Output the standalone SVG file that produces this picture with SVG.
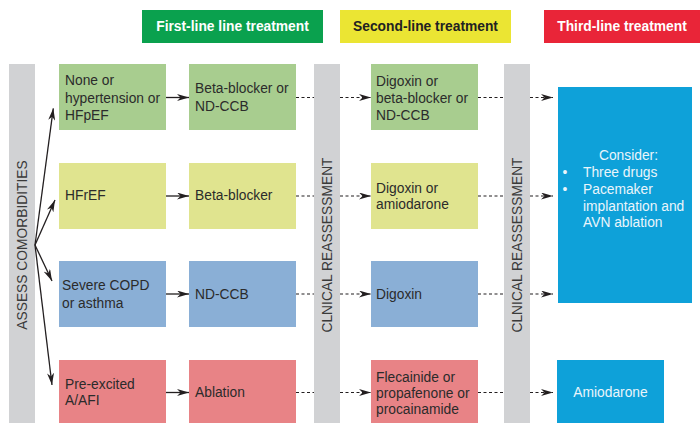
<svg xmlns="http://www.w3.org/2000/svg" width="700" height="423" viewBox="0 0 700 423">
<defs>
<marker id="ah" viewBox="0 0 12 7" refX="12" refY="3.5" markerWidth="12" markerHeight="7" orient="auto" markerUnits="userSpaceOnUse">
<path d="M0,0 L12,3.5 L0,7 L3.5,3.5 z" fill="#231f20"/>
</marker>
<style>
text{font-family:"Liberation Sans",Arial,Helvetica,sans-serif;font-size:13.8px;fill:#2b2b2b}
.hd{font-weight:bold;text-anchor:middle}
.w{fill:#ffffff}
.lt{fill:#eaf5fb}
.vt{text-anchor:middle;fill:#3a3a3a}
.bar{fill:#d1d2d4}
.g{fill:#a8cd8f}
.y{fill:#e0e48f}
.b{fill:#8aafd6}
.p{fill:#e88386}
.c{fill:#0ea1d9}
.sol{stroke:#231f20;stroke-width:1.3;fill:none}
.dash{stroke:#231f20;stroke-width:1.2;stroke-dasharray:3 2.5;fill:none}
</style>
</defs>
<rect width="700" height="423" fill="#ffffff"/>

<g id="header-first"><rect x="142" y="10" width="181" height="33" fill="#0aa14e"/><text class="hd w" x="232.5" y="31">First-line line treatment</text></g>
<g id="header-second"><rect x="340" y="10" width="171" height="33" fill="#ebe533"/><text class="hd" x="425.5" y="31" style="fill:#222">Second-line treatment</text></g>
<g id="header-third"><rect x="544" y="10" width="156" height="33" fill="#e92538"/><text class="hd w" x="622" y="31">Third-line treatment</text></g>

<g id="assess"><rect class="bar" x="9" y="64" width="26" height="359"/><text class="vt" transform="translate(27,245) rotate(-90)">ASSESS COMORBIDITIES</text></g>
<g id="reassess1"><rect class="bar" x="314" y="64" width="26" height="359"/><text class="vt" transform="translate(332,245) rotate(-90)">CLNICAL REASSESSMENT</text></g>
<g id="reassess2"><rect class="bar" x="504" y="64" width="26" height="359"/><text class="vt" transform="translate(521.5,245) rotate(-90)">CLNICAL REASSESSMENT</text></g>

<g id="r1a"><rect class="g" x="59" y="64" width="107" height="66"/><text x="65" y="85">None or</text><text x="65" y="102.5">hypertension or</text><text x="65" y="120">HFpEF</text></g>
<g id="r1b"><rect class="g" x="189" y="64" width="107" height="66"/><text x="195" y="93">Beta-blocker or</text><text x="195" y="110.5">ND-CCB</text></g>
<g id="r1c"><rect class="g" x="371" y="64" width="107" height="66"/><text x="376" y="85.5">Digoxin or</text><text x="376" y="102.5">beta-blocker or</text><text x="376" y="119.5">ND-CCB</text></g>

<g id="r2a"><rect class="y" x="59" y="163" width="107" height="66"/><text x="65" y="200">HFrEF</text></g>
<g id="r2b"><rect class="y" x="189" y="163" width="107" height="66"/><text x="195" y="200">Beta-blocker</text></g>
<g id="r2c"><rect class="y" x="371" y="163" width="107" height="66"/><text x="376" y="192.5">Digoxin or</text><text x="376" y="209">amiodarone</text></g>

<g id="r3a"><rect class="b" x="59" y="261" width="107" height="66"/><text x="62" y="290">Severe COPD</text><text x="62" y="307.5">or asthma</text></g>
<g id="r3b"><rect class="b" x="189" y="261" width="107" height="66"/><text x="195" y="299">ND-CCB</text></g>
<g id="r3c"><rect class="b" x="371" y="261" width="107" height="66"/><text x="376" y="299">Digoxin</text></g>

<g id="r4a"><rect class="p" x="59" y="360" width="107" height="63"/><text x="65" y="389">Pre-excited</text><text x="65" y="405">A/AFI</text></g>
<g id="r4b"><rect class="p" x="189" y="360" width="107" height="63"/><text x="195" y="397">Ablation</text></g>
<g id="r4c"><rect class="p" x="371" y="360" width="107" height="63"/><text x="376" y="381.5">Flecainide or</text><text x="376" y="397.5">propafenone or</text><text x="376" y="414">procainamide</text></g>

<g id="consider"><rect class="c" x="558" y="87" width="134" height="216"/>
<text class="lt" x="628.5" y="160" text-anchor="middle">Consider:</text>
<text class="lt" x="565" y="177" text-anchor="middle">•</text><text class="lt" x="583" y="177">Three drugs</text>
<text class="lt" x="565" y="194" text-anchor="middle">•</text><text class="lt" x="583" y="194">Pacemaker</text>
<text class="lt" x="583" y="210.5">implantation and</text>
<text class="lt" x="583" y="227">AVN ablation</text>
</g>
<g id="amio"><rect class="c" x="557" y="360" width="107" height="63"/><text class="lt" x="610.5" y="397" text-anchor="middle">Amiodarone</text></g>

<g id="connectors">
<path class="sol" marker-end="url(#ah)" d="M35,245 L53.3,108.3"/>
<path class="sol" marker-end="url(#ah)" d="M35,245 L55,200"/>
<path class="sol" marker-end="url(#ah)" d="M35,245 L52,281"/>
<path class="sol" marker-end="url(#ah)" d="M35,245 L52,385"/>

<path class="sol" marker-end="url(#ah)" d="M166,97.5 L189,97.5"/>
<path class="sol" marker-end="url(#ah)" d="M166,196 L189,196"/>
<path class="sol" marker-end="url(#ah)" d="M166,294 L189,294"/>
<path class="sol" marker-end="url(#ah)" d="M166,392.5 L189,392.5"/>

<path class="dash" d="M296,97.5 L314,97.5"/>
<path class="dash" d="M296,196 L314,196"/>
<path class="dash" d="M296,294 L314,294"/>
<path class="dash" d="M296,392.5 L314,392.5"/>
<path class="dash" marker-end="url(#ah)" d="M340,97.5 L371,97.5"/>
<path class="dash" marker-end="url(#ah)" d="M340,196 L371,196"/>
<path class="dash" marker-end="url(#ah)" d="M340,294 L371,294"/>
<path class="dash" marker-end="url(#ah)" d="M340,392.5 L371,392.5"/>

<path class="dash" d="M478,97.5 L504,97.5"/>
<path class="dash" d="M478,196 L504,196"/>
<path class="dash" d="M478,294 L504,294"/>
<path class="dash" d="M478,392.5 L504,392.5"/>
<path class="dash" marker-end="url(#ah)" d="M530,97.5 L553,97.5"/>
<path class="dash" marker-end="url(#ah)" d="M530,196 L553,196"/>
<path class="dash" marker-end="url(#ah)" d="M530,294 L553,294"/>
<path class="dash" marker-end="url(#ah)" d="M530,392.5 L553,392.5"/>
</g>
</svg>
